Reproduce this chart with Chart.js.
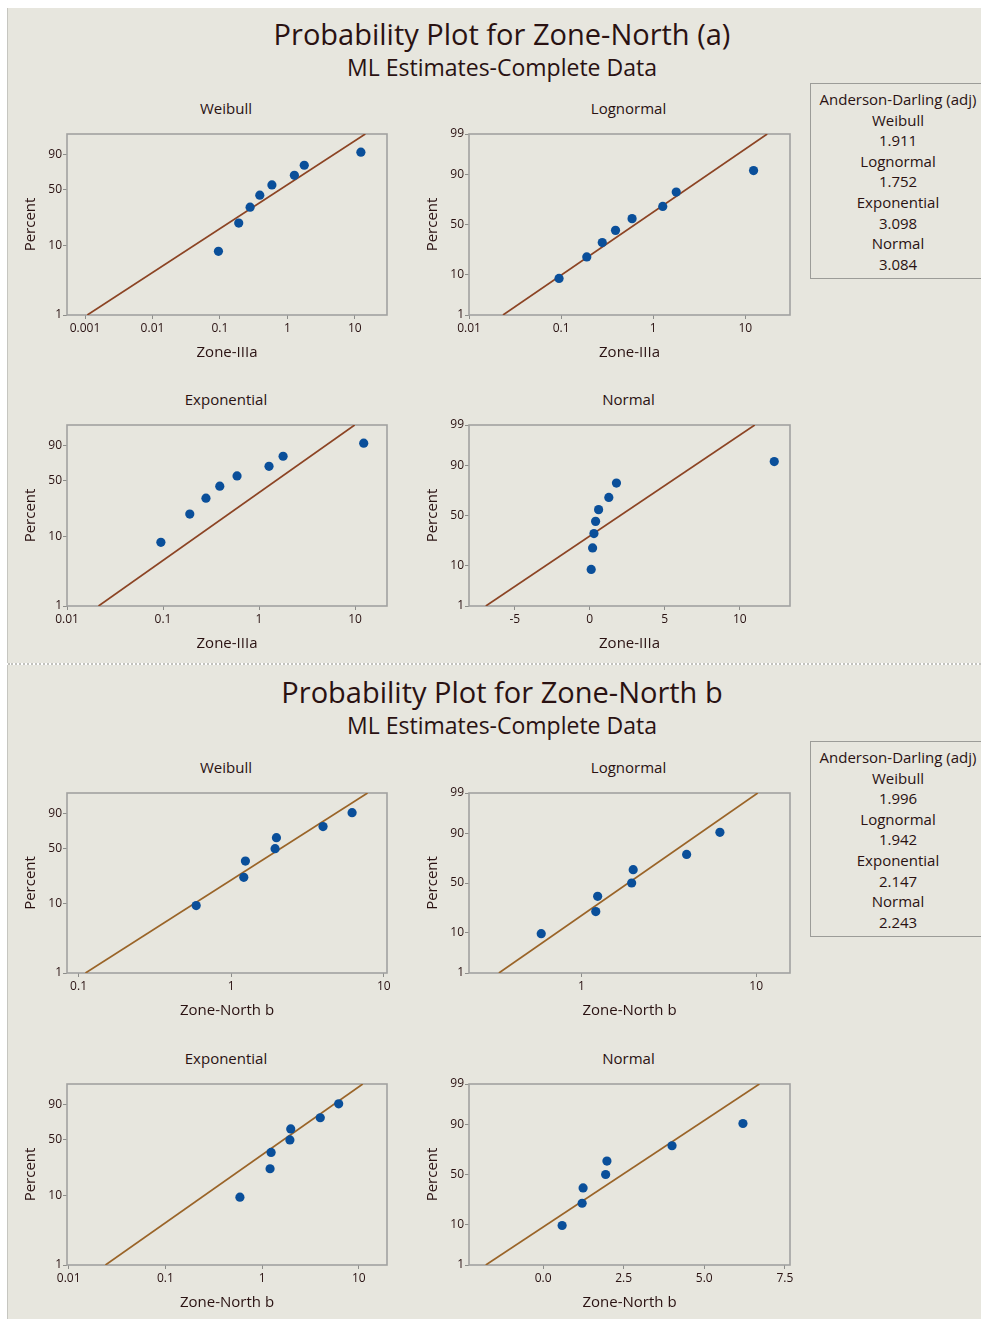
<!DOCTYPE html>
<html>
<head>
<meta charset="utf-8">
<script src="https://cdn.jsdelivr.net/npm/chart.js@4.4.1/dist/chart.umd.min.js"></script>
<style>
  body { margin: 0; background: #fff; font-family: 'Open Sans', sans-serif; color: #2a1212; }
  #page { position: relative; width: 981px; height: 1319px; overflow: hidden; }
  .panel { position: absolute; left: 7px; width: 974px; background: #e7e6de; border-left: 1px solid #c6c6c0; }
  .divider { position: absolute; left: 8px; width: 973px; top: 663px; border-top: 2px dotted #c2c2bd; }
  .txt { position: absolute; text-align: center; white-space: nowrap; }
  .main-title { left: 0; width: 1004px; font-size: 29px; line-height: 34px; }
  .sub-title { left: 0; width: 1004px; font-size: 23px; line-height: 28px; }
  .plot-title { width: 240px; font-size: 15px; line-height: 20px; }
  .ad-box { position: absolute; left: 810px; width: 180px; border: 1px solid #9c9c98; background: #e7e6de;
            text-align: center; font-size: 15px; line-height: 20.6px; padding-top: 5px; box-sizing: border-box; padding-right: 4px; }
  canvas { position: absolute; }
</style>
</head>
<body>
<div id="page">
  <div class="panel" style="top:8px;height:655px"></div>
  <div class="panel" style="top:665px;height:654px"></div>
  <div class="divider"></div>
</div>
<script>
// distributions, in the order they are laid out (row by row)
const DISTS = ['Weibull', 'Lognormal', 'Exponential', 'Normal'];
const Y_KIND = ['extreme', 'normal', 'extreme', 'normal'];
const X_TYPE = ['logarithmic', 'logarithmic', 'logarithmic', 'linear'];
const PCT_TICKS_EXTREME = [1, 10, 50, 90];
const PCT_TICKS_NORMAL = [1, 10, 50, 90, 99];
const FIT_PCT = [1, 99];

// Zone-North (a)
const zoneA = [0.095, 0.19, 0.28, 0.39, 0.59, 1.27, 1.78, 12.3];
const pctA = [8.3, 20.2, 32.1, 44.0, 56.0, 67.9, 79.8, 91.7];
const fitLoA = [0.00108, 0.0234, 0.0213, -6.93];   // x where fit crosses 1 %
const fitHiA = [14.3, 17.3, 9.9, 11.0];            // x where fit crosses 99 %
const xMinA = [0.00054, 0.01, 0.01, -8.05];
const xMaxA = [30, 30.6, 21.5, 13.35];
const xTicksA = [[0.001, 0.01, 0.1, 1, 10], [0.01, 0.1, 1, 10], [0.01, 0.1, 1, 10], [-5, 0, 5, 10]];
const xTickTextA = [['0.001', '0.01', '0.1', '1', '10'], ['0.01', '0.1', '1', '10'], ['0.01', '0.1', '1', '10'], ['-5', '0', '5', '10']];
const adA = ['1.911', '1.752', '3.098', '3.084'];

// Zone-North b
const zoneB = [0.59, 1.21, 1.24, 1.94, 1.98, 4.0, 6.2];
const pctB = [9.5, 23.0, 36.5, 50.0, 63.5, 77.0, 90.5];
const fitLoB = [0.111, 0.338, 0.024, -1.78];
const fitHiB = [7.83, 10.2, 11.0, 6.71];
const xMinB = [0.084, 0.228, 0.0096, -2.3];
const xMaxB = [10.5, 15.6, 19.6, 7.66];
const xTicksB = [[0.1, 1, 10], [1, 10], [0.01, 0.1, 1, 10], [0, 2.5, 5, 7.5]];
const xTickTextB = [['0.1', '1', '10'], ['1', '10'], ['0.01', '0.1', '1', '10'], ['0.0', '2.5', '5.0', '7.5']];
const adB = ['1.996', '1.942', '2.147', '2.243'];

// layout
const COL_X = [[67, 387], [469, 790]];
const ROWS_A = [[134, 315], [425, 606]];
const ROWS_B = [[793, 973], [1084, 1265]];
const Y_AXIS_W = 60, X_AXIS_H = 48, PAD_T = 12, PAD_R = 14;
const TEXT = '#2a1212';

// inverse standard normal cdf (Acklam)
function normInv(p) {
    const a = [-3.969683028665376e+01, 2.209460984245205e+02, -2.759285104469687e+02, 1.383577518672690e+02, -3.066479806614716e+01, 2.506628277459239e+00];
    const b = [-5.447609879822406e+01, 1.615858368580409e+02, -1.556989798598866e+02, 6.680131188771972e+01, -1.328068155288572e+01];
    const c = [-7.784894002430293e-03, -3.223964580411365e-01, -2.400758277161838e+00, -2.549732539343734e+00, 4.374664141464968e+00, 2.938163982698783e+00];
    const d = [7.784695709041462e-03, 3.224671290700398e-01, 2.445134137142996e+00, 3.754408661907416e+00];
    const pl = 0.02425;
    if (p < pl) {
        const q = Math.sqrt(-2 * Math.log(p));
        return (((((c[0] * q + c[1]) * q + c[2]) * q + c[3]) * q + c[4]) * q + c[5]) / ((((d[0] * q + d[1]) * q + d[2]) * q + d[3]) * q + 1);
    }
    if (p > 1 - pl) {
        const q = Math.sqrt(-2 * Math.log(1 - p));
        return -(((((c[0] * q + c[1]) * q + c[2]) * q + c[3]) * q + c[4]) * q + c[5]) / ((((d[0] * q + d[1]) * q + d[2]) * q + d[3]) * q + 1);
    }
    const q = p - 0.5, r = q * q;
    return (((((a[0] * r + a[1]) * r + a[2]) * r + a[3]) * r + a[4]) * r + a[5]) * q / (((((b[0] * r + b[1]) * r + b[2]) * r + b[3]) * r + b[4]) * r + 1);
}

// Percent axis: normal probability or smallest extreme value (Weibull / exponential) paper
class ProbabilityScale extends Chart.LinearScale {
    static id = 'probability';
    static defaults = {};

    transform(p) {
        const q = p / 100;
        return this.options.kind === 'normal' ? normInv(q) : Math.log(-Math.log(1 - q));
    }
    determineDataLimits() {
        this.min = this.options.min;
        this.max = this.options.max;
    }
    buildTicks() {
        const list = this.options.kind === 'normal' ? PCT_TICKS_NORMAL : PCT_TICKS_EXTREME;
        return list.map(v => ({ value: v }));
    }
    getPixelForValue(v) {
        const a = this.transform(this.min), b = this.transform(this.max);
        return this.getPixelForDecimal((this.transform(v) - a) / (b - a));
    }
    getValueForPixel(px) {
        // bisection, only needed for interaction
        let lo = this.min, hi = this.max;
        for (let i = 0; i < 40; i++) {
            const mid = (lo + hi) / 2;
            if (this.getPixelForValue(mid) > px) lo = mid; else hi = mid;
        }
        return (lo + hi) / 2;
    }
}
Chart.register(ProbabilityScale);

// grey frame round the plot area
const plotBox = {
    id: 'plotBox',
    beforeDatasetsDraw(chart) {
        const { left, top, right, bottom } = chart.chartArea;
        const ctx = chart.ctx;
        ctx.save();
        ctx.strokeStyle = '#a2a2a0';
        ctx.lineWidth = 1.6;
        ctx.strokeRect(left, top, right - left, bottom - top);
        ctx.restore();
    }
};

const page = document.getElementById('page');

function addText(cls, text, top, left) {
    const el = document.createElement('div');
    el.className = 'txt ' + cls;
    el.textContent = text;
    el.style.top = top + 'px';
    if (left !== undefined) el.style.left = left + 'px';
    page.appendChild(el);
    return el;
}

function makePlot(i, box, xLabel, values, pcts, fitLo, fitHi, xMin, xMax, ticks, tickText, lineColor) {
    const [L, R, T, B] = box;
    const canvas = document.createElement('canvas');
    const w = R - L + Y_AXIS_W + PAD_R;
    const h = B - T + PAD_T + X_AXIS_H;
    canvas.width = w;
    canvas.height = h;
    canvas.style.left = (L - Y_AXIS_W) + 'px';
    canvas.style.top = (T - PAD_T) + 'px';
    canvas.style.width = w + 'px';
    canvas.style.height = h + 'px';
    page.appendChild(canvas);

    addText('plot-title', DISTS[i], T - 36, (L + R) / 2 - 121);

    const axisFont = { family: "'Open Sans', sans-serif", size: 15 };
    const tickFont = { family: "'Open Sans', sans-serif", size: 12 };

    new Chart(canvas, {
        type: 'scatter',
        data: {
            datasets: [
                {
                    data: [{ x: fitLo[i], y: FIT_PCT[0] }, { x: fitHi[i], y: FIT_PCT[1] }],
                    showLine: true,
                    borderColor: lineColor,
                    borderWidth: 1.7,
                    pointRadius: 0,
                    order: 2
                },
                {
                    data: values.map((v, k) => ({ x: v, y: pcts[k] })),
                    pointRadius: 4.6,
                    pointBackgroundColor: '#0a4f9a',
                    pointBorderWidth: 0,
                    order: 1
                }
            ]
        },
        options: {
            responsive: false,
            animation: false,
            events: [],
            layout: { padding: { left: 0, top: PAD_T, right: PAD_R, bottom: 0 } },
            plugins: { legend: { display: false }, tooltip: { enabled: false } },
            scales: {
                x: {
                    type: X_TYPE[i],
                    min: xMin[i],
                    max: xMax[i],
                    afterBuildTicks: s => { s.ticks = ticks[i].map(v => ({ value: v })); },
                    afterFit: s => { s.height = X_AXIS_H; },
                    grid: { drawOnChartArea: false, drawTicks: true, tickLength: 4, color: '#8d8d8a' },
                    border: { display: false },
                    ticks: { callback: (v, k) => tickText[i][k], color: TEXT, font: tickFont, padding: 2, maxRotation: 0, autoSkip: false },
                    title: { display: true, text: xLabel, color: TEXT, font: axisFont, padding: { top: 0, bottom: 1 } }
                },
                y: {
                    type: 'probability',
                    kind: Y_KIND[i],
                    min: 1,
                    max: 99,
                    afterFit: s => { s.width = Y_AXIS_W; },
                    grid: { drawOnChartArea: false, drawTicks: true, tickLength: 4, color: '#8d8d8a' },
                    border: { display: false },
                    ticks: { callback: v => String(v), color: TEXT, font: tickFont, padding: 1, autoSkip: false },
                    title: { display: true, text: 'Percent', color: TEXT, font: axisFont, padding: { top: 15, bottom: 0 } }
                }
            }
        },
        plugins: [plotBox]
    });
}

function makePanel(title, titleY, rows, xLabel, values, pcts, fitLo, fitHi, xMin, xMax, ticks, tickText, ad, adTop, lineColor) {
    addText('main-title', title, titleY - 18);
    addText('sub-title', 'ML Estimates-Complete Data', titleY + 33 - 15);

    for (let i = 0; i < 4; i++) {
        const col = COL_X[i % 2], row = rows[Math.floor(i / 2)];
        makePlot(i, [col[0], col[1], row[0], row[1]], xLabel, values, pcts, fitLo, fitHi, xMin, xMax, ticks, tickText, lineColor);
    }

    const box = document.createElement('div');
    box.className = 'ad-box';
    box.style.top = adTop + 'px';
    box.style.height = '196px';
    const lines = ['Anderson-Darling (adj)'];
    DISTS.forEach((d, k) => { lines.push(d, ad[k]); });
    lines.forEach(t => {
        const row = document.createElement('div');
        row.textContent = t;
        box.appendChild(row);
    });
    page.appendChild(box);
}

makePanel('Probability Plot for Zone-North (a)', 35, ROWS_A, 'Zone-IIIa', zoneA, pctA, fitLoA, fitHiA, xMinA, xMaxA, xTicksA, xTickTextA, adA, 83, '#8c4424');
makePanel('Probability Plot for Zone-North b', 693, ROWS_B, 'Zone-North b', zoneB, pctB, fitLoB, fitHiB, xMinB, xMaxB, xTicksB, xTickTextB, adB, 741, '#9a6428');
</script>
</body>
</html>
